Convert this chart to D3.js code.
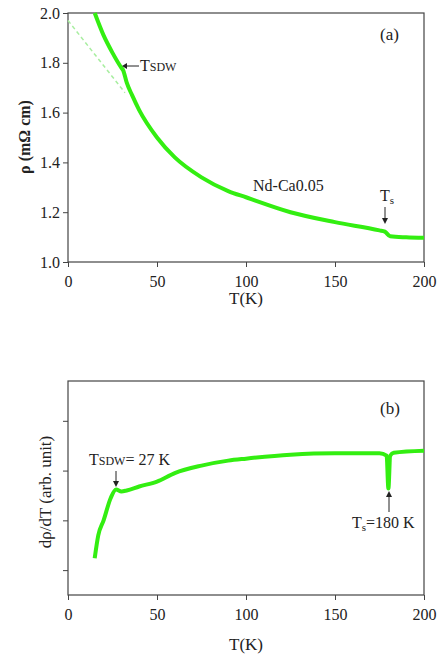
<!DOCTYPE html>
<html><head><meta charset="utf-8">
<script src="https://cdn.jsdelivr.net/npm/d3@7"></script>
<style>body{margin:0;background:#fff}text{font-family:"Liberation Serif",serif !important;fill:#222}</style>
</head><body><svg id="c" width="445" height="657"></svg>
<script>
// panel (a): resistivity
const rhoT = [15, 20, 25, 30, 31, 33, 36, 40, 50, 60, 75, 90, 100, 125, 150, 175, 178, 181, 190, 200];
const rhoV = [2.0, 1.91, 1.84, 1.78, 1.77, 1.72, 1.67, 1.61, 1.5, 1.42, 1.34, 1.285, 1.26, 1.2, 1.16, 1.127, 1.122, 1.103, 1.099, 1.097];
const dashT = [0, 32];
const dashV = [1.97, 1.68];
const rhoTicks = [1.0, 1.2, 1.4, 1.6, 1.8, 2.0];
// panel (b): derivative
const dT = [15, 17, 20, 24, 27, 30, 33, 40, 50, 60, 75, 90, 100, 125, 150, 175, 179, 180, 181, 183, 200];
const dV = [1.24, 1.7, 2.0, 2.45, 2.62, 2.58, 2.6, 2.68, 2.78, 2.95, 3.1, 3.2, 3.24, 3.32, 3.35, 3.35, 3.3, 2.64, 3.3, 3.36, 3.4];
const xTicks = [0, 50, 100, 150, 200];

const svg = d3.select('#c');
const green = '#33ee11';
const x = d3.scaleLinear().domain([0, 200]).range([68, 424]);

function frame(y, top, bottom, yTicks, fmt) {
    const g = svg.append('g');
    g.append('rect').attr('x', 68).attr('y', top).attr('width', 356).attr('height', bottom - top)
        .attr('fill', 'none').attr('stroke', '#444').attr('stroke-width', 1.2);
    g.append('g').attr('transform', `translate(0,${bottom})`)
        .call(d3.axisBottom(x).tickValues(xTicks).tickSize(5).tickPadding(9))
        .call(a => a.select('.domain').remove())
        .selectAll('text').style('font-size', '16px');
    const ya = g.append('g').attr('transform', 'translate(68,0)')
        .call(d3.axisLeft(y).tickValues(yTicks).tickSize(5).tickFormat(fmt))
        .call(a => a.select('.domain').remove());
    ya.selectAll('text').style('font-size', '16px');
    g.selectAll('.tick line').attr('stroke', '#444');
}

// panel a
const ya = d3.scaleLinear().domain([1.0, 2.0]).range([262, 13]);
frame(ya, 13, 262, rhoTicks, d3.format('.1f'));
svg.append('path').datum(dashT.map((t, i) => [t, dashV[i]]))
    .attr('d', d3.line().x(d => x(d[0])).y(d => ya(d[1])))
    .attr('stroke', '#a8eea0').attr('stroke-width', 1.5).attr('stroke-dasharray', '4,3').attr('fill', 'none');
svg.append('path').datum(rhoT.map((t, i) => [t, rhoV[i]]))
    .attr('d', d3.line().curve(d3.curveMonotoneX).x(d => x(d[0])).y(d => ya(d[1])))
    .attr('stroke', green).attr('stroke-width', 4).attr('fill', 'none');

svg.append('text').attr('x', 380).attr('y', 40).style('font-size', '17px').text('(a)');
svg.append('text').attr('x', 140).attr('y', 71).style('font-size', '16px').text('T')
    .append('tspan').style('font-size', '12px').text('SDW');
svg.append('line').attr('x1', 139).attr('y1', 66).attr('x2', 124).attr('y2', 66).attr('stroke', '#222');
svg.append('path').attr('d', 'M122,66 l5,-3 l0,6 z').attr('fill', '#222');
svg.append('text').attr('x', 253).attr('y', 191).style('font-size', '16px').text('Nd-Ca0.05');
svg.append('text').attr('x', 380).attr('y', 201).style('font-size', '16px').text('T')
    .append('tspan').style('font-size', '11px').attr('dy', 3).text('s');
svg.append('line').attr('x1', 385).attr('y1', 207).attr('x2', 385).attr('y2', 220).attr('stroke', '#222');
svg.append('path').attr('d', 'M385,224 l-3,-6 l6,0 z').attr('fill', '#222');
svg.append('text').attr('x', 246).attr('y', 304).attr('text-anchor', 'middle').style('font-size', '17px').text('T(K)');
svg.append('text').attr('transform', 'translate(30,137) rotate(-90)').attr('text-anchor', 'middle')
    .style('font-size', '16px').style('font-weight', 'bold').text('ρ (mΩ cm)');

// panel b
const yb = d3.scaleLinear().domain([0.5, 4.8]).range([595, 381]);
frame(yb, 381, 595, [1, 2, 3, 4], () => '');
svg.append('path').datum(dT.map((t, i) => [t, dV[i]]))
    .attr('d', d3.line().curve(d3.curveMonotoneX).x(d => x(d[0])).y(d => yb(d[1])))
    .attr('stroke', green).attr('stroke-width', 4).attr('fill', 'none');
svg.append('text').attr('x', 380).attr('y', 414).style('font-size', '17px').text('(b)');
svg.append('text').attr('x', 89).attr('y', 465).style('font-size', '16px').text('T')
    .append('tspan').style('font-size', '12px').text('SDW')
    .append('tspan').style('font-size', '16px').text('= 27 K');
svg.append('line').attr('x1', 116).attr('y1', 471).attr('x2', 116).attr('y2', 484).attr('stroke', '#222');
svg.append('path').attr('d', 'M116,487 l-3,-6 l6,0 z').attr('fill', '#222');
svg.append('text').attr('x', 352).attr('y', 528).style('font-size', '16px').text('T')
    .append('tspan').style('font-size', '11px').attr('dy', 3).text('s')
    .append('tspan').style('font-size', '16px').attr('dy', -3).text('=180 K');
svg.append('line').attr('x1', 389).attr('y1', 495).attr('x2', 389).attr('y2', 512).attr('stroke', '#222');
svg.append('path').attr('d', 'M389,491 l-3,6 l6,0 z').attr('fill', '#222');
svg.append('text').attr('x', 246).attr('y', 650).attr('text-anchor', 'middle').style('font-size', '17px').text('T(K)');
svg.append('text').attr('transform', 'translate(51,492) rotate(-90)').attr('text-anchor', 'middle')
    .style('font-size', '17px').text('dρ/dT (arb. unit)');
</script></body></html>
